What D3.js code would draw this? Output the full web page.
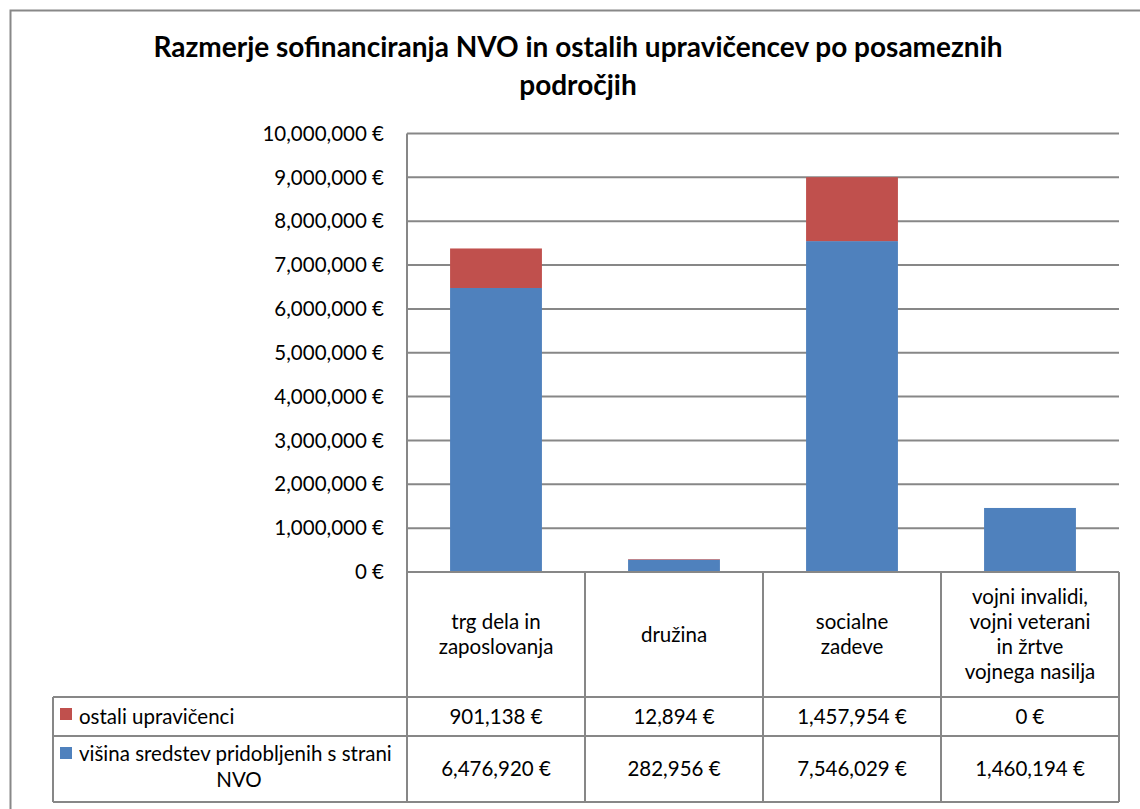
<!DOCTYPE html>
<html>
<head>
<meta charset="utf-8">
<script src="https://cdn.jsdelivr.net/npm/d3@7"></script>
<style>
  body { margin: 0; background: #fff; }
  text { font-family: Lato, 'Noto Sans', sans-serif; fill: #000; }
</style>
</head>
<body>
<div id="chart"></div>
<script>
const width = 1140,
    height = 809;

// data
const categories = ['trg dela in\nzaposlovanja', 'družina', 'socialne\nzadeve', 'vojni invalidi,\nvojni veterani\nin žrtve\nvojnega nasilja'];
const seriesNames = ['višina sredstev pridobljenih s strani', 'ostali upravičenci'];
const nvoValues = [6476920, 282956, 7546029, 1460194];
const otherValues = [901138, 12894, 1457954, 0];
const yTicks = [0, 1000000, 2000000, 3000000, 4000000, 5000000, 6000000, 7000000, 8000000, 9000000, 10000000];

const blue = '#4F81BD',
    red = '#C0504D',
    grid = '#878787';

const plotLeft = 407,
    plotRight = 1119,
    plotTop = 133.5,
    plotBottom = 572,
    tableLeft = 53,
    headerBottom = 697,
    row1Bottom = 736,
    tableBottom = 802;

const fs = '20.5px';
const fmt = v => d3.format(',')(v) + ' €';

let svg = d3.select('#chart').append('svg')
    .attr('width', width)
    .attr('height', height);

svg.append('rect')
    .attr('x', 10.5).attr('y', 10.5)
    .attr('width', width + 10).attr('height', height + 10)
    .attr('fill', '#fff')
    .attr('stroke', '#888').attr('stroke-width', 2);

// title
svg.append('text')
    .attr('x', 578).attr('y', 57)
    .attr('text-anchor', 'middle')
    .style('font-size', '28px').style('font-weight', 'bold')
    .text('Razmerje sofinanciranja NVO in ostalih upravičencev po posameznih');
svg.append('text')
    .attr('x', 578).attr('y', 95)
    .attr('text-anchor', 'middle')
    .style('font-size', '28px').style('font-weight', 'bold')
    .text('področjih');

let x = d3.scaleBand()
    .domain(categories)
    .range([plotLeft, plotRight])
    .padding(0);

let y = d3.scaleLinear()
    .domain([0, 10000000])
    .range([plotBottom, plotTop]);

const barWidth = x.bandwidth() * 0.516;

// gridlines
svg.append('g')
    .selectAll('line')
    .data(yTicks)
    .enter().append('line')
    .attr('x1', plotLeft).attr('x2', plotRight)
    .attr('y1', d => y(d)).attr('y2', d => y(d))
    .attr('stroke', grid).attr('stroke-width', 2);

// y tick labels
svg.append('g')
    .selectAll('text')
    .data(yTicks)
    .enter().append('text')
    .attr('x', 384)
    .attr('y', d => y(d))
    .attr('dy', '0.35em')
    .attr('text-anchor', 'end')
    .style('font-size', fs)
    .text(d => fmt(d));

// stacked bars
const stackData = categories.map((c, i) => ({ cat: c, nvo: nvoValues[i], other: otherValues[i] }));
let stack = d3.stack().keys(['nvo', 'other'])(stackData);
const colors = [blue, red];

svg.append('g')
    .selectAll('g')
    .data(stack)
    .enter().append('g')
    .attr('fill', (d, i) => colors[i])
    .selectAll('rect')
    .data(d => d)
    .enter().append('rect')
    .attr('x', d => x(d.data.cat) + (x.bandwidth() - barWidth) / 2)
    .attr('width', barWidth)
    .attr('y', d => y(d[1]))
    .attr('height', d => y(d[0]) - y(d[1]));

// y axis line
svg.append('line')
    .attr('x1', plotLeft).attr('x2', plotLeft)
    .attr('y1', plotTop).attr('y2', tableBottom)
    .attr('stroke', grid).attr('stroke-width', 2);

// data table
let table = svg.append('g');

const hLines = [
    [plotLeft, plotRight, plotBottom],
    [tableLeft, plotRight, headerBottom],
    [tableLeft, plotRight, row1Bottom],
    [tableLeft, plotRight, tableBottom]
];
table.selectAll('line.h')
    .data(hLines)
    .enter().append('line')
    .attr('class', 'h')
    .attr('x1', d => d[0]).attr('x2', d => d[1])
    .attr('y1', d => d[2]).attr('y2', d => d[2])
    .attr('stroke', grid).attr('stroke-width', 2);

table.selectAll('line.v')
    .data(categories)
    .enter().append('line')
    .attr('class', 'v')
    .attr('x1', d => x(d) + x.bandwidth()).attr('x2', d => x(d) + x.bandwidth())
    .attr('y1', plotBottom).attr('y2', tableBottom)
    .attr('stroke', grid).attr('stroke-width', 2);

table.append('line')
    .attr('x1', tableLeft).attr('x2', tableLeft)
    .attr('y1', headerBottom).attr('y2', tableBottom)
    .attr('stroke', grid).attr('stroke-width', 2);

// category headers
const lineH = 25;
let headers = table.selectAll('text.cat')
    .data(categories)
    .enter().append('text')
    .attr('class', 'cat')
    .attr('text-anchor', 'middle')
    .style('font-size', fs);

headers.each(function(d) {
    let lines = d.split('\n');
    let cy = (plotBottom + headerBottom) / 2 - (lines.length - 1) * lineH / 2;
    d3.select(this).selectAll('tspan')
        .data(lines)
        .enter().append('tspan')
        .attr('x', x(d) + x.bandwidth() / 2)
        .attr('y', (l, i) => cy + i * lineH)
        .attr('dy', '0.35em')
        .text(l => l);
});

// value rows
const rows = [
    { values: otherValues, cy: (headerBottom + row1Bottom) / 2 },
    { values: nvoValues, cy: (row1Bottom + tableBottom) / 2 }
];
rows.forEach(r => {
    table.append('g')
        .selectAll('text')
        .data(r.values)
        .enter().append('text')
        .attr('x', (d, i) => x(categories[i]) + x.bandwidth() / 2)
        .attr('y', r.cy)
        .attr('dy', '0.35em')
        .attr('text-anchor', 'middle')
        .style('font-size', fs)
        .text(d => fmt(d));
});

// legend keys in the table
table.append('rect')
    .attr('x', 60).attr('y', 708)
    .attr('width', 12).attr('height', 12)
    .attr('fill', red);
table.append('text')
    .attr('x', 79).attr('y', 716.5)
    .attr('dy', '0.35em')
    .style('font-size', fs)
    .text(seriesNames[1]);

table.append('rect')
    .attr('x', 60).attr('y', 747)
    .attr('width', 12).attr('height', 12)
    .attr('fill', blue);
table.append('text')
    .attr('x', 79).attr('y', 754)
    .attr('dy', '0.35em')
    .style('font-size', fs)
    .text(seriesNames[0]);
table.append('text')
    .attr('x', 239).attr('y', 780)
    .attr('dy', '0.35em')
    .attr('text-anchor', 'middle')
    .style('font-size', fs)
    .text('NVO');
</script>
</body>
</html>
